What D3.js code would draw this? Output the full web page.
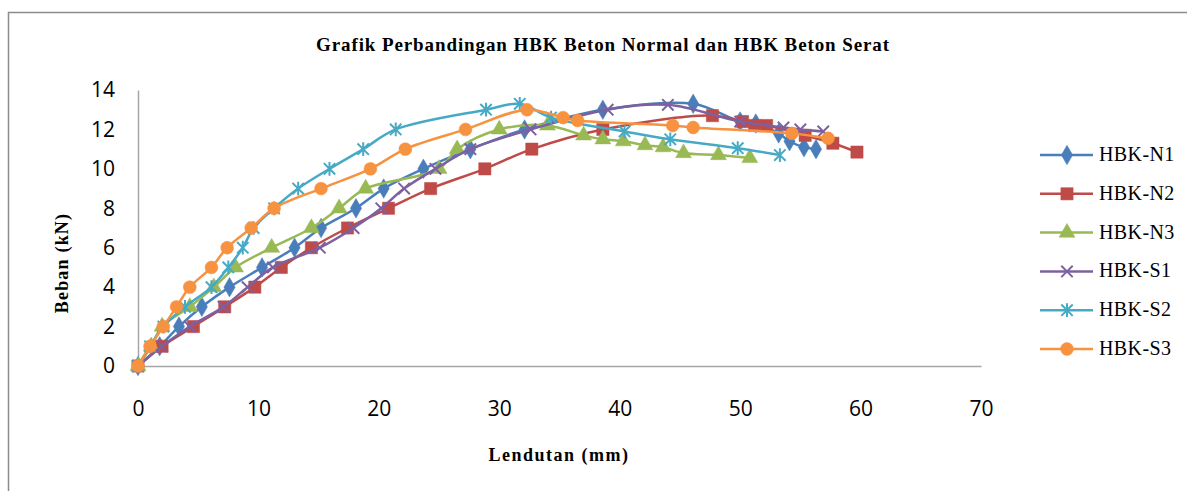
<!DOCTYPE html>
<meta charset="utf-8">
<style>
body { margin: 0; background: #fff; }
.tick text { font-family: "Open Sans", sans-serif; }
.judul { font-family: "Liberation Serif", serif; font-weight: bold; }
.leg text { font-family: "Liberation Serif", serif; }
</style>
<body>
<script src="https://d3js.org/d3.v7.min.js"></script>
<script>

// data: [lendutan (mm), beban (kN)]
var hbkN1 = [[0,0],[1.8,1],[3.4,2],[5.3,3],[7.6,4],[10.3,5],[13,6],[15.2,7],[18.1,8],[20.4,9],[23.7,10],[27.6,11],[32.1,12],[38.6,13],[46.1,13.3],[50,12.4],[51.3,12.3],[53.2,11.8],[54.1,11.4],[55.3,11.1],[56.3,11]];
var hbkN2 = [[0,0],[2,1],[4.6,2],[7.2,3],[9.7,4],[11.9,5],[14.4,6],[17.4,7],[20.8,8],[24.3,9],[28.8,10],[32.7,11],[38.6,12],[47.7,12.7],[50.2,12.4],[51.2,12.2],[52.2,12.2],[55.4,11.7],[57.7,11.3],[59.7,10.85]];
var hbkN3 = [[0,0],[1.1,1],[2,2],[4.3,3],[6.3,4],[8.1,5],[11.1,6],[14.4,7],[16.7,8],[18.9,9],[25,10],[26.5,11],[30,12],[34,12.2],[37,11.7],[38.6,11.5],[40.3,11.4],[42.1,11.2],[43.6,11.1],[45.3,10.8],[48.2,10.7],[50.8,10.55]];
var hbkS1 = [[0,0],[2,1],[4.3,2],[7.1,3],[9.1,4],[11.2,5],[15.1,6],[17.9,7],[20.2,8],[22.1,9],[24.7,10],[27.6,11],[32.6,12],[39,13],[44,13.25],[50,12.4],[53.6,12.1],[55,12],[56.9,11.9]];
var hbkS2 = [[0,0],[1,1],[2.1,2],[3.9,3],[6.1,4],[7.5,5],[8.7,6],[9.6,7],[11.3,8],[13.3,9],[15.9,10],[18.7,11],[21.4,12],[28.9,13],[31.7,13.3],[34.3,12.6],[40.4,11.9],[44.2,11.5],[49.8,11.05],[53.3,10.7]];
var hbkS3 = [[0,0],[1,1],[2.1,2],[3.2,3],[4.3,4],[6.1,5],[7.4,6],[9.4,7],[11.3,8],[15.2,9],[19.3,10],[22.2,11],[27.2,12],[32.3,13],[35.3,12.6],[36.5,12.45],[44.4,12.2],[46.1,12.1],[54.3,11.8],[57.3,11.55]];

var namaSeri = ["HBK-N1","HBK-N2","HBK-N3","HBK-S1","HBK-S2","HBK-S3"];
var dataSeri = [hbkN1, hbkN2, hbkN3, hbkS1, hbkS2, hbkS3];
var warna = ["#4A7EBB","#BE4B48","#98B954","#7D60A0","#46AAC5","#F69240"];

var xTicks = [0,10,20,30,40,50,60,70];
var yTicks = [0,2,4,6,8,10,12,14];

var width = 1187, height = 491;
var plot = {left: 138, right: 981, top: 90, bottom: 366};

// penanda yang tidak ada di d3 lama: silang dan bintang
var silang = { draw: function(ctx, size) {
  var r = Math.sqrt(size) / 2;
  ctx.moveTo(-r,-r); ctx.lineTo(r,r); ctx.moveTo(r,-r); ctx.lineTo(-r,r);
}};
var bintang = { draw: function(ctx, size) {
  var r = Math.sqrt(size) / 2;
  ctx.moveTo(-r,-r); ctx.lineTo(r,r); ctx.moveTo(r,-r); ctx.lineTo(-r,r);
  ctx.moveTo(0,-r*1.2); ctx.lineTo(0,r*1.2);
}};
var penanda = [
  {type: d3.symbolDiamond, size: 110, fill: true},
  {type: d3.symbolSquare, size: 150, fill: true},
  {type: d3.symbolTriangle, size: 110, fill: true},
  {type: silang, size: 130, fill: false},
  {type: bintang, size: 130, fill: false},
  {type: d3.symbolCircle, size: 130, fill: true}
];

var svg = d3.select("body").append("svg")
    .attr("width", width)
    .attr("height", height);

// bingkai
svg.append("path")
    .attr("d", "M8.5," + height + "V12.5H" + width)
    .attr("fill", "none")
    .attr("stroke", "#8c8c8c")
    .attr("stroke-width", 1.5);

var x = d3.scaleLinear().domain([0, 70]).range([plot.left, plot.right]);
var y = d3.scaleLinear().domain([0, 14]).range([plot.bottom, plot.top]);

var xAxis = svg.append("g")
    .attr("transform", "translate(0," + plot.bottom + ")")
    .call(d3.axisBottom(x).tickValues(xTicks).tickSize(0).tickPadding(35));
var yAxis = svg.append("g")
    .attr("transform", "translate(" + plot.left + ",0)")
    .call(d3.axisLeft(y).tickValues(yTicks).tickSize(0).tickPadding(23));

[xAxis, yAxis].forEach(function(a) {
  a.select(".domain").attr("stroke", "#a6a6a6").attr("stroke-width", 1.5);
  a.selectAll("text").attr("font-size", 21).attr("fill", "#000");
});

svg.append("text")
    .attr("class", "judul")
    .attr("x", 603).attr("y", 51)
    .attr("text-anchor", "middle")
    .attr("font-size", 19)
    .attr("letter-spacing", 0.9)
    .text("Grafik Perbandingan HBK Beton Normal dan HBK Beton Serat");

svg.append("text")
    .attr("class", "judul")
    .attr("x", 559).attr("y", 461)
    .attr("text-anchor", "middle")
    .attr("font-size", 18)
    .attr("letter-spacing", 1.5)
    .text("Lendutan (mm)");

svg.append("text")
    .attr("class", "judul")
    .attr("transform", "translate(68,263) rotate(-90)")
    .attr("text-anchor", "middle")
    .attr("font-size", 18)
    .attr("letter-spacing", 1.2)
    .text("Beban (kN)");

var garis = d3.line()
    .x(function(d) { return x(d[0]); })
    .y(function(d) { return y(d[1]); })
    .curve(d3.curveCatmullRom.alpha(0.5));

function gambarPenanda(sel, i) {
  var p = penanda[i];
  sel.attr("d", d3.symbol().type(p.type).size(p.size)())
     .attr("fill", p.fill ? warna[i] : "none")
     .attr("stroke", warna[i])
     .attr("stroke-width", p.fill ? 0.5 : 2);
}

dataSeri.forEach(function(data, i) {
  var g = svg.append("g");
  g.append("path")
      .datum(data)
      .attr("d", garis)
      .attr("fill", "none")
      .attr("stroke", warna[i])
      .attr("stroke-width", 2.5);
  g.selectAll(".m")
      .data(data)
      .enter().append("path")
      .attr("transform", function(d) { return "translate(" + x(d[0]) + "," + y(d[1]) + ")"; })
      .call(gambarPenanda, i);
});

// legenda
var leg = svg.append("g").attr("class", "leg")
    .selectAll("g")
    .data(namaSeri)
    .enter().append("g")
    .attr("transform", function(d, i) { return "translate(1040," + (155 + i * 38.8) + ")"; });

leg.append("line")
    .attr("x1", 0).attr("x2", 53)
    .attr("stroke", function(d, i) { return warna[i]; })
    .attr("stroke-width", 2.5);
leg.append("path")
    .attr("transform", "translate(27,0)")
    .each(function(d, i) { gambarPenanda(d3.select(this), i); });
leg.append("text")
    .attr("x", 59).attr("y", 6)
    .attr("font-size", 20)
    .attr("letter-spacing", 0.4)
    .text(function(d) { return d; });

</script>
</body>
